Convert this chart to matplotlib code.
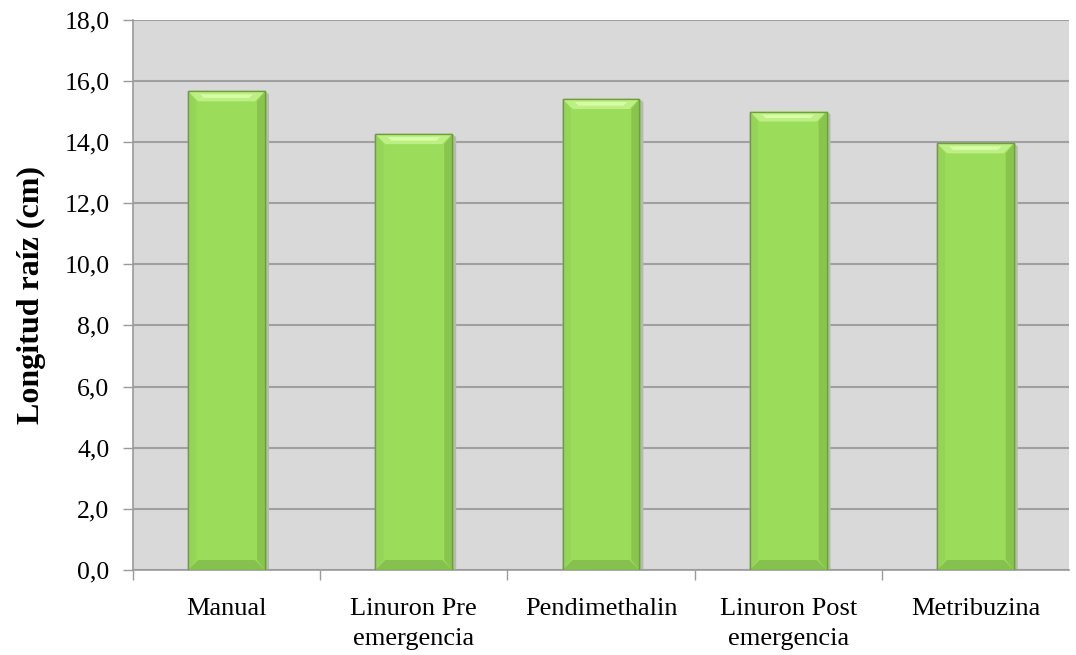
import matplotlib
matplotlib.use("Agg")
import matplotlib.pyplot as plt
from matplotlib.patches import Polygon
import numpy as np

# values
categorias = ["Manual", "Linuron Pre\nemergencia", "Pendimethalin",
              "Linuron Post\nemergencia", "Metribuzina"]
longitud = [15.65, 14.25, 15.4, 14.99, 13.95]
yticks = np.arange(0, 18.1, 2.0)

plt.rcParams["font.family"] = ["Liberation Serif", "DejaVu Serif"]

fig = plt.figure(figsize=(10.76, 6.55), dpi=100)
ax = fig.add_axes([133 / 1076, 1 - 570 / 655, (1069 - 133) / 1076, (570 - 19.5) / 655])
ax.set_facecolor("#d9d9d9")

x = np.arange(len(categorias))
bars = ax.bar(x, longitud, width=0.41, color="#9bdc5a", edgecolor="#6f9f3c",
              linewidth=1.0, zorder=3)

ax.set_xlim(-0.5, len(categorias) - 0.5)
ax.set_ylim(0, 18)

# bevel effect, depth given in pixels and converted to data units
inv = ax.transData.inverted()
px_x = (inv.transform((10, 0)) - inv.transform((0, 0)))[0]
px_y = (inv.transform((0, 10)) - inv.transform((0, 0)))[1]
for b in bars:
    x0, w, h = b.get_x(), b.get_width(), b.get_height()
    x1 = x0 + w
    # shadow on the right
    ax.add_patch(Polygon([(x1, 0), (x1 + px_x * 0.4, 0), (x1 + px_x * 0.4, h - px_y * 0.3),
                          (x1, h)], closed=True, color="#b8b8b8", lw=0, zorder=2))
    # top bevel
    ax.add_patch(Polygon([(x0, h), (x1, h), (x1 - px_x, h - px_y), (x0 + px_x, h - px_y)],
                         closed=True, color="#bdef85", lw=0, zorder=4))
    ax.add_patch(Polygon([(x0 + px_x * 1.2, h - px_y * 0.3), (x1 - px_x * 1.2, h - px_y * 0.3),
                          (x1 - px_x * 1.6, h - px_y * 0.65), (x0 + px_x * 1.6, h - px_y * 0.65)],
                         closed=True, color="#d6ffa6", lw=0, zorder=4))
    # side bevels
    ax.add_patch(Polygon([(x1, h), (x1, 0), (x1 - px_x * 0.8, px_y), (x1 - px_x * 0.8, h - px_y)],
                         closed=True, color="#89c54e", lw=0, zorder=4))
    ax.add_patch(Polygon([(x0, h), (x0, 0), (x0 + px_x * 0.8, px_y), (x0 + px_x * 0.8, h - px_y)],
                         closed=True, color="#94d557", lw=0, zorder=4))
    # bottom bevel
    ax.add_patch(Polygon([(x0, 0), (x1, 0), (x1 - px_x, px_y), (x0 + px_x, px_y)],
                         closed=True, color="#86c04e", lw=0, zorder=4))
    ax.add_patch(Polygon([(x0, 0), (x1, 0), (x1, h), (x0, h)], closed=True,
                         fill=False, ec="#6f9f3c", lw=1.0, zorder=5))

ax.set_yticks(yticks)
ax.set_yticklabels([f"{v:.1f}".replace(".", ",") for v in yticks])
ax.yaxis.grid(True, color="#a0a0a0", linewidth=1.5, zorder=1)
ax.set_axisbelow(True)

ax.set_xticks(x)
ax.set_xticklabels(categorias, linespacing=1.5)
ax.set_xticks(np.arange(-0.5, len(categorias) - 1), minor=True)
ax.tick_params(axis="x", which="major", length=0, pad=20, labelsize=19)
ax.tick_params(axis="x", which="minor", length=7, color="#9a9a9a", width=1)
ax.tick_params(axis="y", length=7, color="#9a9a9a", width=1, pad=10, labelsize=18.5)

for s in ["top", "right"]:
    ax.spines[s].set_visible(False)
for s in ["left", "bottom"]:
    ax.spines[s].set_color("#9a9a9a")
    ax.spines[s].set_linewidth(1.2)

ax.set_ylabel("Longitud raíz (cm)", fontsize=23, fontweight="bold")
ax.yaxis.set_label_coords(-0.093, 0.5)

fig.savefig("out.png", dpi=100)
